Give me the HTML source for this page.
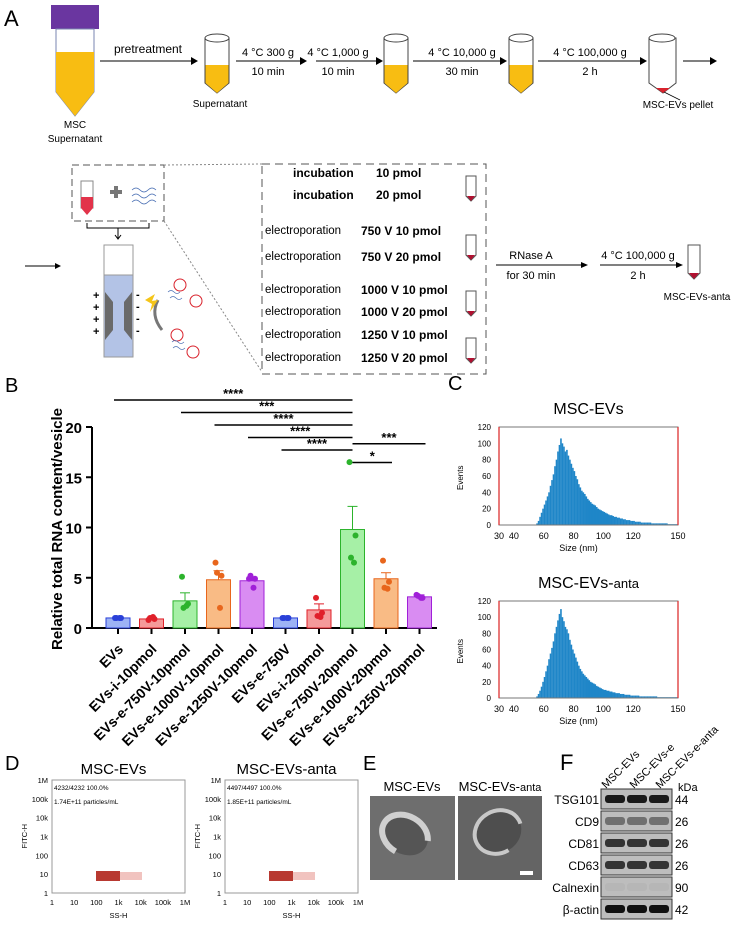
<!DOCTYPE html>
<html><head><meta charset="utf-8"><style>
body{margin:0;background:#fff}
svg{display:block;font-family:"Liberation Sans",Arial,sans-serif}
</style></head><body>
<svg id="fig" width="740" height="928" viewBox="0 0 740 928">
<!-- Panel A -->
<g>
<text x="4" y="26" font-size="22">A</text>
<rect x="51" y="5" width="48" height="24" fill="#6a36a0"/>
<path d="M56 29 H94 V92 L75 116 L56 92 Z" fill="#fff" stroke="#7a86b0"/>
<path d="M56 52 H94 V92 L75 116 L56 92 Z" fill="#f8bd12"/>
<text x="75" y="128" font-size="10" text-anchor="middle">MSC</text>
<text x="75" y="142" font-size="10" text-anchor="middle">Supernatant</text>
<text x="148" y="53" font-size="12" text-anchor="middle">pretreatment</text>
<g fill="#fff" stroke="#444">
<path d="M205 38 h24 v45 l-12 10 l-12 -10 z"/><path d="M384 38 h24 v45 l-12 10 l-12 -10 z"/><path d="M509 38 h24 v45 l-12 10 l-12 -10 z"/><path d="M649 38 h27 v45 l-13 10 l-14 -10 z"/>
</g>
<g fill="#fff" stroke="#444"><ellipse cx="217" cy="38" rx="12" ry="4"/><ellipse cx="396" cy="38" rx="12" ry="4"/><ellipse cx="521" cy="38" rx="12" ry="4"/><ellipse cx="662" cy="38" rx="13" ry="4"/></g>
<g fill="#f8bd12"><path d="M205.5 65 h23 v18 l-11.5 10 l-11.5 -10 z"/><path d="M384.5 65 h23 v18 l-11.5 10 l-11.5 -10 z"/><path d="M509.5 65 h23 v18 l-11.5 10 l-11.5 -10 z"/></g>
<path d="M656 88 l7 5 l7 -5 z" fill="#d9232d"/>
<text x="220" y="107" font-size="10" text-anchor="middle">Supernatant</text>
<g font-size="11" text-anchor="middle">
<text x="268" y="56">4 °C 300 g</text><text x="268" y="75">10 min</text>
<text x="338" y="56">4 °C 1,000 g</text><text x="338" y="75">10 min</text>
<text x="462" y="56">4 °C   10,000 g</text><text x="462" y="75">30 min</text>
<text x="590" y="56">4 °C 100,000 g</text><text x="590" y="75">2 h</text>
</g>
<g stroke="#000"><line x1="100" y1="61" x2="192" y2="61"/><line x1="236" y1="61" x2="300" y2="61"/><line x1="316" y1="61" x2="376" y2="61"/><line x1="413" y1="61" x2="500" y2="61"/><line x1="538" y1="61" x2="640" y2="61"/><line x1="683" y1="61" x2="710" y2="61"/></g>
<g><path d="M191 57 L198 61 L191 65Z"/><path d="M300 57 L307 61 L300 65Z"/><path d="M376 57 L383 61 L376 65Z"/><path d="M500 57 L507 61 L500 65Z"/><path d="M640 57 L647 61 L640 65Z"/><path d="M710 57 L717 61 L710 65Z"/></g>
<line x1="664" y1="92" x2="680" y2="100" stroke="#000" stroke-width="0.7"/>
<text x="678" y="108" font-size="10" text-anchor="middle">MSC-EVs pellet</text>
<line x1="25" y1="266" x2="56" y2="266" stroke="#000"/><path d="M55 263 L61 266 L55 269Z"/>
<rect x="72" y="165" width="92" height="56" fill="none" stroke="#555" stroke-dasharray="7,4"/>
<rect x="81" y="181" width="12" height="27" fill="#fff" stroke="#888"/><path d="M81 197 h12 v11 l-6 7 l-6 -7z" fill="#e2334a"/>
<rect x="110" y="190" width="12" height="4" fill="#777"/><rect x="114" y="186" width="4" height="12" fill="#777"/>
<g stroke="#4a6fb4" fill="none" stroke-width="0.8"><path d="M132 190 q4 -4 8 0 t8 0 t8 0"/><path d="M132 196 q4 -4 8 0 t8 0 t8 0"/><path d="M132 202 q4 -4 8 0 t8 0 t8 0"/></g>
<path d="M87 223 v5 h62 v-5 M118 228 v10" stroke="#000" fill="none"/><path d="M115 235 l3 4 l3 -4" stroke="#000" fill="none"/>
<rect x="104" y="245" width="29" height="112" fill="#b3c3e6" stroke="#999"/><rect x="104" y="245" width="29" height="30" fill="#fff" stroke="#999"/>
<path d="M105 292 l8 10 v28 l-8 10z M132 292 l-8 10 v28 l8 10z" fill="#6a6a6a"/>
<g font-size="11" font-weight="bold"><text x="93" y="299">+</text><text x="93" y="311">+</text><text x="93" y="323">+</text><text x="93" y="335">+</text><text x="136" y="298">-</text><text x="136" y="310">-</text><text x="136" y="322">-</text><text x="136" y="334">-</text></g>
<g fill="none" stroke="#d9232d"><circle cx="180" cy="285" r="6"/><circle cx="196" cy="301" r="6"/><circle cx="177" cy="335" r="6"/><circle cx="193" cy="352" r="6"/></g>
<g stroke="#4a6fb4" fill="none" stroke-width="0.7"><path d="M168 292 q3 -3 6 0 t6 0"/><path d="M170 298 q3 -3 6 0 t6 0"/><path d="M172 342 q3 -3 6 0 t6 0"/><path d="M173 348 q3 -3 6 0 t6 0"/></g>
<path d="M158 300 q-8 15 4 30" stroke="#777" stroke-width="3" fill="none"/>
<path d="M145 300 l10 -6 l-3 7 l6 -1 l-8 12 l2 -8z" fill="#f5c518"/>
<line x1="164" y1="165" x2="262" y2="164" stroke="#888" stroke-dasharray="2,2"/><line x1="164" y1="221" x2="262" y2="372" stroke="#888" stroke-dasharray="2,2"/>
<rect x="262" y="164" width="224" height="210" fill="none" stroke="#555" stroke-dasharray="8,5"/>
<g font-size="12" font-weight="bold">
<text x="293" y="177">incubation</text><text x="376" y="177">10 pmol</text>
<text x="293" y="199">incubation</text><text x="376" y="199">20 pmol</text>
<text x="361" y="235">750 V 10 pmol</text>
<text x="361" y="261">750 V 20 pmol</text>
<text x="361" y="294">1000 V 10 pmol</text>
<text x="361" y="316">1000 V 20 pmol</text>
<text x="361" y="339">1250 V 10 pmol</text>
<text x="361" y="362">1250 V 20 pmol</text>
</g>
<g font-size="11.5">
<text x="265" y="234">electroporation</text><text x="265" y="260">electroporation</text><text x="265" y="293">electroporation</text><text x="265" y="315">electroporation</text><text x="265" y="338">electroporation</text><text x="265" y="361">electroporation</text>
</g>
<g fill="#fff" stroke="#555"><path d="M466 176 h10 v20 l-5 5 l-5 -5z"/><path d="M466 235 h10 v20 l-5 5 l-5 -5z"/><path d="M466 291 h10 v20 l-5 5 l-5 -5z"/><path d="M466 338 h10 v20 l-5 5 l-5 -5z"/><path d="M688 245 h12 v28 l-6 6 l-6 -6z"/></g>
<g fill="#b01030"><path d="M467 196 l4 5 l4 -5z"/><path d="M467 255 l4 5 l4 -5z"/><path d="M467 311 l4 5 l4 -5z"/><path d="M467 358 l4 5 l4 -5z"/><path d="M689 273 l5 6 l5 -6z"/></g>
<text x="531" y="259" font-size="11" text-anchor="middle">RNase A</text><text x="531" y="279" font-size="11" text-anchor="middle">for  30 min</text>
<text x="638" y="259" font-size="11" text-anchor="middle">4 °C 100,000 g</text><text x="638" y="279" font-size="11" text-anchor="middle">2 h</text>
<line x1="496" y1="265" x2="582" y2="265" stroke="#000"/><path d="M581 262 L588 265 L581 268Z"/>
<line x1="600" y1="265" x2="677" y2="265" stroke="#000"/><path d="M676 262 L683 265 L676 268Z"/>
<text x="697" y="300" font-size="10" text-anchor="middle">MSC-EVs-anta</text>
</g>

<!-- Panel B -->
<text x="5" y="392" font-size="20">B</text>
<g id="barchart"></g>
<text transform="translate(62,650) rotate(-90)" font-size="15" font-weight="bold">Relative total RNA content/vesicle</text>

<!-- Panel C -->
<text x="448" y="390" font-size="20">C</text>
<g id="hists"></g>

<!-- Panel D -->
<text x="5" y="770" font-size="20">D</text>
<g id="flow"></g>

<!-- Panel E -->
<g>
<text x="363" y="770" font-size="20">E</text>
<text x="412" y="791" font-size="13" text-anchor="middle">MSC-EVs</text>
<text x="500" y="791" font-size="13" text-anchor="middle">MSC-EVs-<tspan font-size="11">anta</tspan></text>
<rect x="370" y="796" width="85" height="84" fill="#6e6e6e"/>
<rect x="458" y="796" width="84" height="84" fill="#646464"/>
<ellipse cx="405" cy="835" rx="19" ry="24" fill="#555" stroke="#d0d0d0" stroke-width="6" stroke-dasharray="95,50" transform="rotate(120 405 835)"/>
<ellipse cx="498" cy="832" rx="21" ry="24" fill="#4e4e4e" stroke="#c8c8c8" stroke-width="4" stroke-dasharray="110,40" transform="rotate(60 498 832)"/>
<rect x="520" y="871" width="13" height="4" fill="#fff"/>
</g>

<!-- Panel F -->
<g>
<text x="560" y="770" font-size="22">F</text>
<g font-size="11"><text transform="translate(606,789) rotate(-45)">MSC-EVs</text><text transform="translate(634,789) rotate(-45)">MSC-EVs-e</text><text transform="translate(660,789) rotate(-45)">MSC-EVs-e-anta</text></g>
<text x="678" y="791" font-size="11">kDa</text>
<g id="blots"></g>
</g>
</svg>
<script>
const NS='http://www.w3.org/2000/svg';
function mk(p,tag,attrs,txt){const e=document.createElementNS(NS,tag);for(const k in attrs)e.setAttribute(k,attrs[k]);if(txt!==undefined)e.textContent=txt;p.appendChild(e);return e;}

// ---- Panel B data ----
const categories=['EVs','EVs-i-10pmol','EVs-e-750V-10pmol','EVs-e-1000V-10pmol','EVs-e-1250V-10pmol','EVs-e-750V','EVs-i-20pmol','EVs-e-750V-20pmol','EVs-e-1000V-20pmol','EVs-e-1250V-20pmol'];
const means=[1.0,0.9,2.7,4.8,4.7,1.0,1.8,9.8,4.9,3.1];
const sems=[0.05,0.1,0.8,0.9,0.3,0.05,0.6,2.3,0.6,0.2];
const points=[[1,1,1,1],[0.8,0.9,1.0,1.1],[5.1,2.4,2.0,2.2],[6.5,5.2,5.5,2.0],[4.9,4.9,5.2,4.0],[1,1,1,1],[3.0,1.5,1.2,1.1],[16.5,9.2,7.0,6.5],[6.7,4.6,4.0,3.9],[3.3,3.0,3.2,3.0]];
const yTicks=[0,5,10,15,20];
const sigStars=['****','***','****','****','****','***','*'];
const sigFrom=[0,2,3,4,5,7,7];
const sigTo=[7,7,7,7,7,9,8];
const sigLevel=[0,1,2,3,4,3.5,5];
const fills=['#9db3f5','#f59a9a','#a6f0a6','#f9bb85','#d98cf2'];
const strokes=['#2a40d8','#e0202a','#2cb32c','#e8661c','#a020d8'];
const colIdx=[0,1,2,3,4,0,1,2,3,4];
const Y0=628,Y20=427;
const ys=v=>Y0-(v/20)*(Y0-Y20);
const xs=i=>118+i*33.5;
const bc=document.getElementById('barchart');
mk(bc,'line',{x1:92,y1:Y20,x2:92,y2:Y0,stroke:'#000','stroke-width':2});
mk(bc,'line',{x1:92,y1:Y0,x2:437,y2:Y0,stroke:'#000','stroke-width':2});
yTicks.forEach(t=>{mk(bc,'line',{x1:86,y1:ys(t),x2:92,y2:ys(t),stroke:'#000','stroke-width':2});mk(bc,'text',{x:82,y:ys(t)+6,'font-size':15,'font-weight':'bold','text-anchor':'end'},t);});
categories.forEach((c,i)=>{
  const x=xs(i),ci=colIdx[i];
  mk(bc,'line',{x1:x,y1:Y0,x2:x,y2:Y0+6,stroke:'#000','stroke-width':2});
  const b=mk(bc,'rect',{x:x-12,y:ys(means[i]),width:24,height:Y0-ys(means[i]),fill:fills[ci],stroke:strokes[ci]});
  
  
  mk(bc,'line',{x1:x,y1:ys(means[i]),x2:x,y2:ys(means[i]+sems[i]),stroke:strokes[ci]});
  mk(bc,'line',{x1:x-5,y1:ys(means[i]+sems[i]),x2:x+5,y2:ys(means[i]+sems[i]),stroke:strokes[ci]});
  points[i].forEach((p,j)=>mk(bc,'circle',{cx:x+(j%2?3:-3)*(j>1?0.5:1),cy:ys(p),r:3,fill:strokes[ci]}));
  const t=mk(bc,'text',{transform:`translate(${x+6},${Y0+22}) rotate(-45)`,'font-size':14,'font-weight':'bold','text-anchor':'end'},c);
  
  
});
sigStars.forEach((s,k)=>{
  const y=400+sigLevel[k]*12.5;
  const x1=sigFrom[k]===7&&k>4?xs(7):xs(sigFrom[k])-4, x2=sigTo[k]===7?xs(7):xs(sigTo[k])+6;
  mk(bc,'line',{x1:x1,y1:y,x2:x2,y2:y,stroke:'#000','stroke-width':1.5});
  mk(bc,'text',{x:(x1+x2)/2,y:y-2,'font-size':13,'font-weight':'bold','text-anchor':'middle'},s);
});

// ---- Panel C data ----
const binStart=[55];
const countsEVs=[2,5,10,15,20,25,30,35,40,48,55,62,72,80,90,98,106,100,96,90,92,85,80,75,70,66,60,56,50,46,42,40,38,35,32,30,28,26,25,24,22,20,19,18,17,16,15,14,13,12,12,11,10,10,9,9,8,8,7,7,6,6,6,5,5,5,4,4,4,4,3,3,3,3,3,3,3,2,2,2,2,2,2,2,2,2,2,2,1,1,1,1,1,1,1];
const countsAnta=[2,5,9,14,20,26,33,40,48,55,62,70,80,88,96,104,110,100,95,88,85,80,72,66,60,55,50,45,40,36,33,30,28,26,24,22,20,19,18,17,15,14,13,12,11,10,10,9,9,8,8,7,7,6,6,6,5,5,5,4,4,4,4,3,3,3,3,3,3,2,2,2,2,2,2,2,2,2,2,2,2,1,1,1,1,1,1,1,1,1,1,1,1,1,1];
const histTicksX=[30,40,60,80,100,120,150];
const histTicksY=[0,20,40,60,80,100,120];
const hg=document.getElementById('hists');
function hist(top,bottom,title,counts,sub){
  const L=499,R=678,xs2=v=>L+(v-30)*(R-L)/120,yh=v=>bottom-v*(bottom-top)/120;
  const t=mk(hg,'text',{x:(L+R)/2,y:top-13,'font-size':16,'text-anchor':'middle'},title);
  if(sub){mk(t,'tspan',{'font-size':13},sub);}
  counts.forEach((c,i)=>mk(hg,'rect',{x:xs2(binStart[0]+i),y:yh(c),width:1.6,height:bottom-yh(c),fill:'#1f86c8'}));
  mk(hg,'rect',{x:L,y:top,width:R-L,height:bottom-top,fill:'none',stroke:'#777'});
  mk(hg,'line',{x1:L,y1:top,x2:L,y2:bottom,stroke:'#d33','stroke-width':1.3});mk(hg,'line',{x1:R,y1:top,x2:R,y2:bottom,stroke:'#d33','stroke-width':1.3});
  histTicksY.forEach(v=>mk(hg,'text',{x:L-8,y:yh(v)+3,'font-size':8,'text-anchor':'end'},v));
  histTicksX.forEach(v=>mk(hg,'text',{x:xs2(v),y:bottom+14,'font-size':9,'text-anchor':'middle'},v));
  mk(hg,'text',{x:(L+R)/2-10,y:bottom+26,'font-size':9,'text-anchor':'middle'},'Size (nm)');
  mk(hg,'text',{transform:`translate(${L-36},${(top+bottom)/2+14}) rotate(-90)`,'font-size':8},'Events');
}
hist(427,525,'MSC-EVs',countsEVs,'');
hist(601,698,'MSC-EVs-',countsAnta,'anta');

// ---- Panel D ----
const flowTicks=['1','10','100','1k','10k','100k','1M'];
const flowTitles=['MSC-EVs','MSC-EVs-anta'];
const flowStats=['4232/4232  100.0%','4497/4497  100.0%'];
const flowConc=['1.74E+11 particles/mL','1.85E+11 particles/mL'];
const fg=document.getElementById('flow');
flowTitles.forEach((tt,k)=>{
  const L=52+k*173,R=L+133,T=780,B=893;
  mk(fg,'text',{x:(L+R)/2-5,y:T-6,'font-size':15,'text-anchor':'middle'},tt);
  mk(fg,'rect',{x:L,y:T,width:R-L,height:B-T,fill:'none',stroke:'#999'});
  flowTicks.forEach((lab,i)=>{const y=B-i*(B-T)/6,x=L+i*(R-L)/6;
    mk(fg,'text',{x:L-4,y:y+3,'font-size':7.5,'text-anchor':'end'},lab);
    mk(fg,'text',{x:x,y:B+12,'font-size':7.5,'text-anchor':'middle'},lab);});
  mk(fg,'text',{x:L+2,y:T+10,'font-size':6.5},flowStats[k]);
  mk(fg,'text',{x:L+2,y:T+24,'font-size':6.5},flowConc[k]);
  mk(fg,'text',{x:(L+R)/2,y:B+25,'font-size':7.5,'text-anchor':'middle'},'SS-H');
  mk(fg,'text',{transform:`translate(${L-25},${(T+B)/2+12}) rotate(-90)`,'font-size':7.5},'FITC-H');
  mk(fg,'rect',{x:L+44,y:B-22,width:24,height:10,fill:'#b0231b',opacity:0.9});
  mk(fg,'rect',{x:L+68,y:B-21,width:22,height:8,fill:'#e07a70',opacity:0.45});
});

// ---- Panel F ----
const blotLabels=['TSG101','CD9','CD81','CD63','Calnexin','β-actin'];
const blotKda=['44','26','26','26','90','42'];
const blotIntensity=[0.95,0.45,0.8,0.8,0.04,1.0];
const blotTop=[789,811,833,855,877,899];
const bl=document.getElementById('blots');
blotLabels.forEach((lab,i)=>{
  const y=blotTop[i];
  mk(bl,'rect',{x:601,y:y,width:71,height:20,fill:'#bdbdbd',stroke:'#333'});
  [0,1,2].forEach(j=>mk(bl,'rect',{x:605+j*22,y:y+6,width:20,height:8,rx:3,fill:'#111',opacity:blotIntensity[i]}));
  mk(bl,'text',{x:599,y:y+15,'font-size':12,'text-anchor':'end'},lab);
  mk(bl,'text',{x:675,y:y+15,'font-size':12},blotKda[i]);
});
</script>
</body></html>
